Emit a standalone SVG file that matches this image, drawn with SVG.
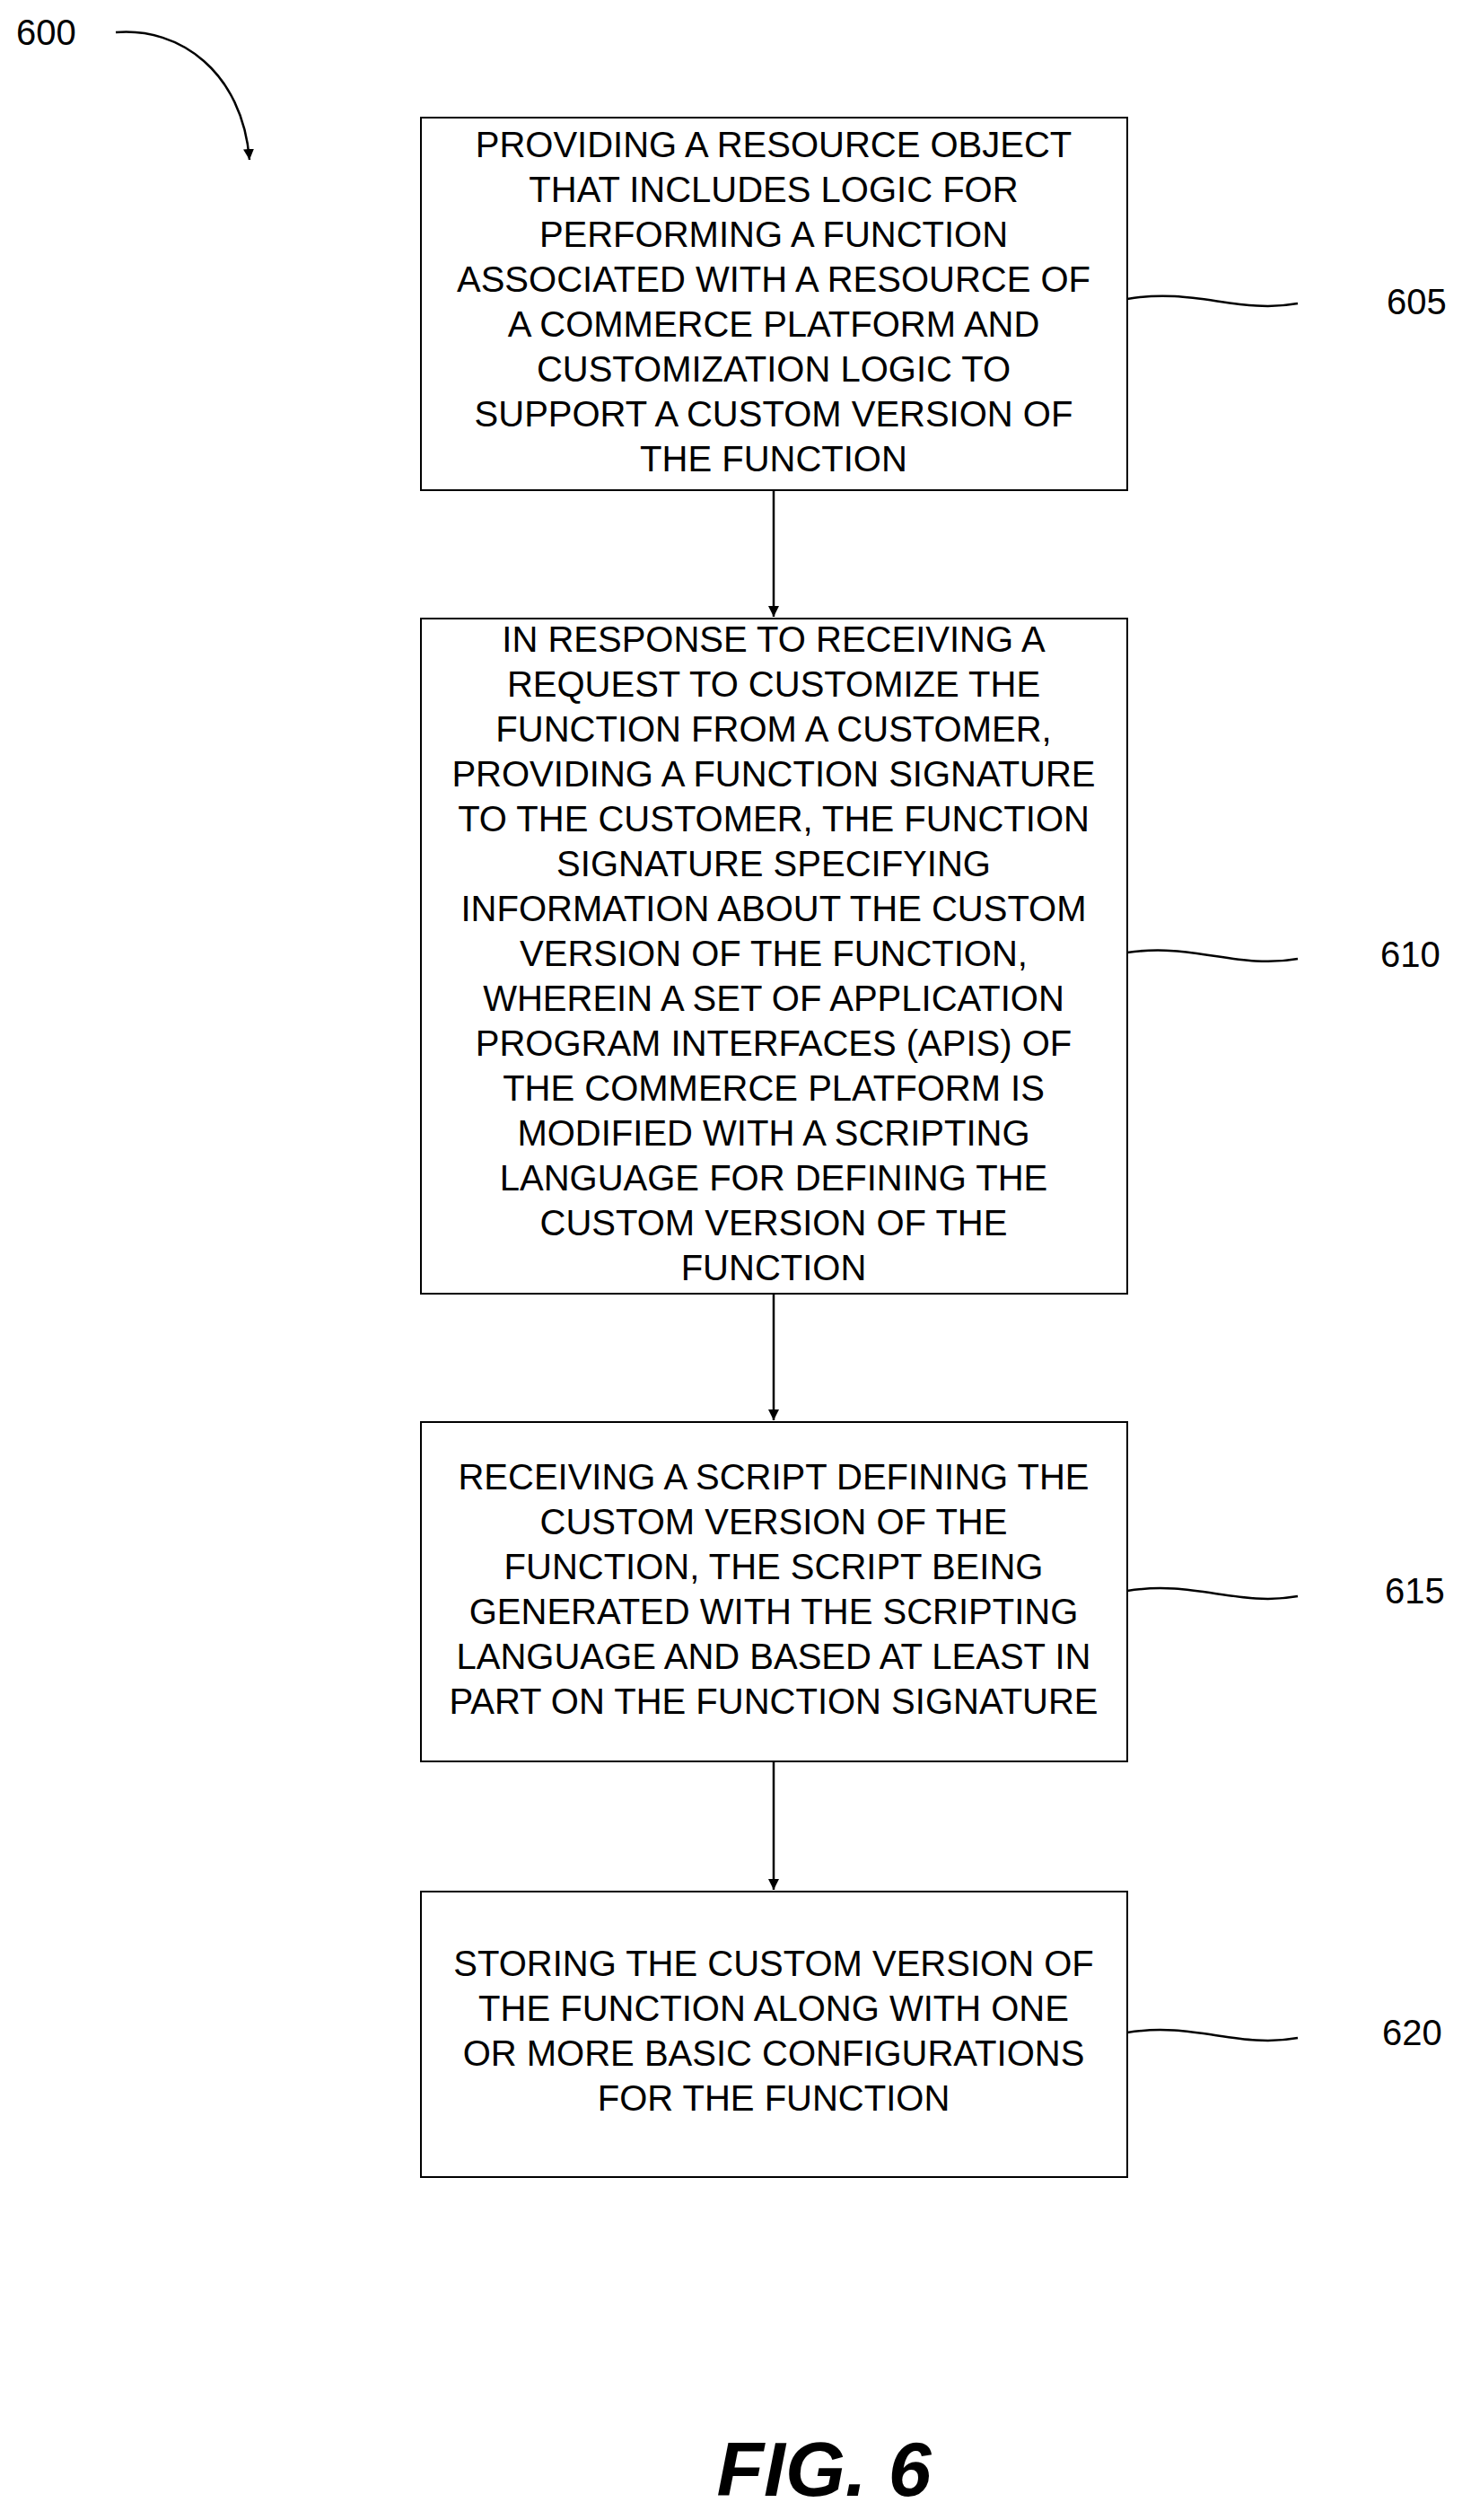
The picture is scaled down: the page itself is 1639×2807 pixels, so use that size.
<svg xmlns="http://www.w3.org/2000/svg" width="1639" height="2807" viewBox="0 0 1639 2807">
<style>
.t{font-family:"Liberation Sans",Arial,sans-serif;font-size:40px;fill:#000;text-anchor:middle}
.l{font-family:"Liberation Sans",Arial,sans-serif;font-size:40px;fill:#000}
.b{fill:#fff;stroke:#000;stroke-width:2}
.c{fill:none;stroke:#000;stroke-width:2.5}
</style>
<defs><marker id="a" markerWidth="12" markerHeight="12" refX="10" refY="5" orient="auto" markerUnits="userSpaceOnUse" viewBox="0 0 10 10"><path d="M0,0L10,5L0,10z" fill="#000"/></marker></defs>
<rect width="1639" height="2807" fill="#fff"/>
<g id="label600"><text class="l" x="18" y="50">600</text><path class="c" d="M129,36 C200,30 270,80 278,178" marker-end="url(#a)"/></g>
<g id="n605"><rect class="b" x="469" y="131" width="787" height="415"/>
<text class="t" x="862"><tspan x="862" y="175">PROVIDING A RESOURCE OBJECT</tspan><tspan x="862" y="225">THAT INCLUDES LOGIC FOR</tspan><tspan x="862" y="275">PERFORMING A FUNCTION</tspan><tspan x="862" y="325">ASSOCIATED WITH A RESOURCE OF</tspan><tspan x="862" y="375">A COMMERCE PLATFORM AND</tspan><tspan x="862" y="425">CUSTOMIZATION LOGIC TO</tspan><tspan x="862" y="475">SUPPORT A CUSTOM VERSION OF</tspan><tspan x="862" y="525">THE FUNCTION</tspan></text>
<path class="c" d="M1256,333 C1330,320 1380,350 1446,338"/><text class="l" x="1545" y="350">605</text></g>
<g id="n610"><rect class="b" x="469" y="689" width="787" height="752"/>
<text class="t"><tspan x="862" y="726">IN RESPONSE TO RECEIVING A</tspan><tspan x="862" y="776">REQUEST TO CUSTOMIZE THE</tspan><tspan x="862" y="826">FUNCTION FROM A CUSTOMER,</tspan><tspan x="862" y="876">PROVIDING A FUNCTION SIGNATURE</tspan><tspan x="862" y="926">TO THE CUSTOMER, THE FUNCTION</tspan><tspan x="862" y="976">SIGNATURE SPECIFYING</tspan><tspan x="862" y="1026">INFORMATION ABOUT THE CUSTOM</tspan><tspan x="862" y="1076">VERSION OF THE FUNCTION,</tspan><tspan x="862" y="1126">WHEREIN A SET OF APPLICATION</tspan><tspan x="862" y="1176">PROGRAM INTERFACES (APIS) OF</tspan><tspan x="862" y="1226">THE COMMERCE PLATFORM IS</tspan><tspan x="862" y="1276">MODIFIED WITH A SCRIPTING</tspan><tspan x="862" y="1326">LANGUAGE FOR DEFINING THE</tspan><tspan x="862" y="1376">CUSTOM VERSION OF THE</tspan><tspan x="862" y="1426">FUNCTION</tspan></text>
<path class="c" d="M1256,1061 C1330,1050 1380,1080 1446,1068"/><text class="l" x="1538" y="1077">610</text></g>
<g id="n615"><rect class="b" x="469" y="1584" width="787" height="378"/>
<text class="t"><tspan x="862" y="1659">RECEIVING A SCRIPT DEFINING THE</tspan><tspan x="862" y="1709">CUSTOM VERSION OF THE</tspan><tspan x="862" y="1759">FUNCTION, THE SCRIPT BEING</tspan><tspan x="862" y="1809">GENERATED WITH THE SCRIPTING</tspan><tspan x="862" y="1859">LANGUAGE AND BASED AT LEAST IN</tspan><tspan x="862" y="1909">PART ON THE FUNCTION SIGNATURE</tspan></text>
<path class="c" d="M1256,1772 C1330,1760 1380,1790 1446,1778"/><text class="l" x="1543" y="1786">615</text></g>
<g id="n620"><rect class="b" x="469" y="2107" width="787" height="318"/>
<text class="t"><tspan x="862" y="2201">STORING THE CUSTOM VERSION OF</tspan><tspan x="862" y="2251">THE FUNCTION ALONG WITH ONE</tspan><tspan x="862" y="2301">OR MORE BASIC CONFIGURATIONS</tspan><tspan x="862" y="2351">FOR THE FUNCTION</tspan></text>
<path class="c" d="M1256,2264 C1330,2252 1380,2282 1446,2270"/><text class="l" x="1540" y="2278">620</text></g>
<g id="connectors">
<line class="c" x1="862" y1="546" x2="862" y2="687" marker-end="url(#a)"/>
<line class="c" x1="862" y1="1441" x2="862" y2="1582" marker-end="url(#a)"/>
<line class="c" x1="862" y1="1962" x2="862" y2="2105" marker-end="url(#a)"/>
</g>
<text x="918" y="2780" style="font-family:'Liberation Sans',Arial,sans-serif;font-size:86px;font-weight:bold;font-style:italic;text-anchor:middle">FIG. 6</text>
</svg>
